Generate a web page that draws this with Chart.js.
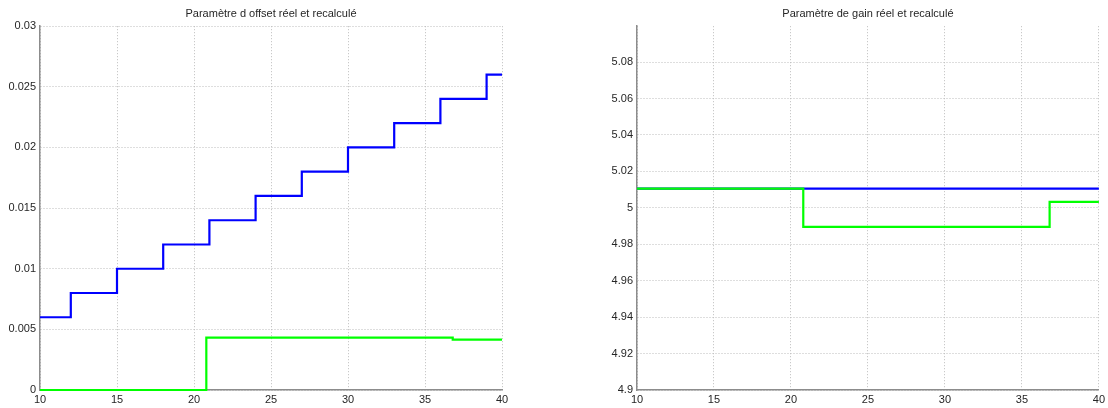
<!DOCTYPE html>
<html><head><meta charset="utf-8">
<script src="https://cdn.jsdelivr.net/npm/chart.js@4.4.1/dist/chart.umd.min.js"></script>
<style>
html,body{margin:0;padding:0;background:#fff;width:1108px;height:408px;overflow:hidden;position:relative}
canvas{position:absolute;top:0}
</style></head>
<body>
<canvas id="c1" width="560" height="408" style="left:0"></canvas>
<canvas id="c2" width="548" height="408" style="left:560px"></canvas>
<script>
// ---- data ----
const offsetTitle = "Paramètre d offset réel et recalculé";
const gainTitle = "Paramètre de gain réel et recalculé";
const offsetRealX = [10, 12, 15, 18, 21, 24, 27, 30, 33, 36, 39, 40];
const offsetRealY = [0.006, 0.008, 0.010, 0.012, 0.014, 0.016, 0.018, 0.020, 0.022, 0.024, 0.026, 0.026];
const offsetCalcX = [10, 20.8, 36.8, 40];
const offsetCalcY = [0, 0.00432, 0.00415, 0.00415];
const gainRealX = [10, 40];
const gainRealY = [5.0105, 5.0105];
const gainCalcX = [10, 20.8, 36.8, 40];
const gainCalcY = [5.0105, 4.9895, 5.0033, 5.0033];
const xTicks = [10, 15, 20, 25, 30, 35, 40];
const offsetTicks = [0, 0.005, 0.01, 0.015, 0.02, 0.025, 0.03];
const gainTicks = [4.9, 4.92, 4.94, 4.96, 4.98, 5.0, 5.02, 5.04, 5.06, 5.08];

const pts = (xs, ys) => xs.map((x, i) => ({x, y: ys[i]}));
const FONT = {family: "'Liberation Sans', Arial, sans-serif", size: 11};
const TXT = '#262626';
const GRID = {color: '#bdbdbd', drawTicks: false, lineWidth: 1};
const BORDER = {display: true, color: '#8c8c8c', width: 1.5, dash: [1, 2]};

function makeChart(id, title, realX, realY, calcX, calcY, yOpts, yWidth, padRight) {
  return new Chart(document.getElementById(id), {
    type: 'line',
    data: {datasets: [
      {data: pts(calcX, calcY), borderColor: '#00ff00', borderWidth: 2.2, stepped: true, pointRadius: 0, fill: false, order: 0, clip: false},
      {data: pts(realX, realY), borderColor: '#0000ff', borderWidth: 2.2, stepped: true, pointRadius: 0, fill: false, order: 1, clip: false}
    ]},
    options: {
      responsive: false, animation: false, devicePixelRatio: 1,
      layout: {padding: {left: 0, right: padRight, top: 0, bottom: 0}},
      plugins: {
        legend: {display: false}, tooltip: {enabled: false},
        title: {display: true, text: title, color: TXT, fullSize: false,
                font: {...FONT, weight: 'normal'}, padding: {top: 7, bottom: 6}}
      },
      scales: {
        x: {type: 'linear', min: 10, max: 40,
            afterBuildTicks: s => { s.ticks = xTicks.map(v => ({value: v})); },
            afterFit: s => { s.height = 18; },
            ticks: {color: TXT, font: FONT, padding: 3, maxRotation: 0},
            grid: GRID, border: BORDER
        },
        y: Object.assign({type: 'linear',
            afterFit: s => { s.width = yWidth; },
            grid: GRID, border: BORDER
        }, yOpts)
      }
    }
  });
}

makeChart('c1', offsetTitle, offsetRealX, offsetRealY, offsetCalcX, offsetCalcY, {
  min: 0, max: 0.03,
  afterBuildTicks: s => { s.ticks = offsetTicks.map(v => ({value: v})); },
  ticks: {color: TXT, font: FONT, padding: 4, callback: v => String(+(+v).toFixed(4))}
}, 40, 58);

makeChart('c2', gainTitle, gainRealX, gainRealY, gainCalcX, gainCalcY, {
  min: 4.9, max: 5.0997,
  afterBuildTicks: s => { s.ticks = gainTicks.map(v => ({value: v})); },
  ticks: {color: TXT, font: FONT, padding: 4, callback: v => String(+(+v).toFixed(3))}
}, 77, 8);
</script>
</body></html>
